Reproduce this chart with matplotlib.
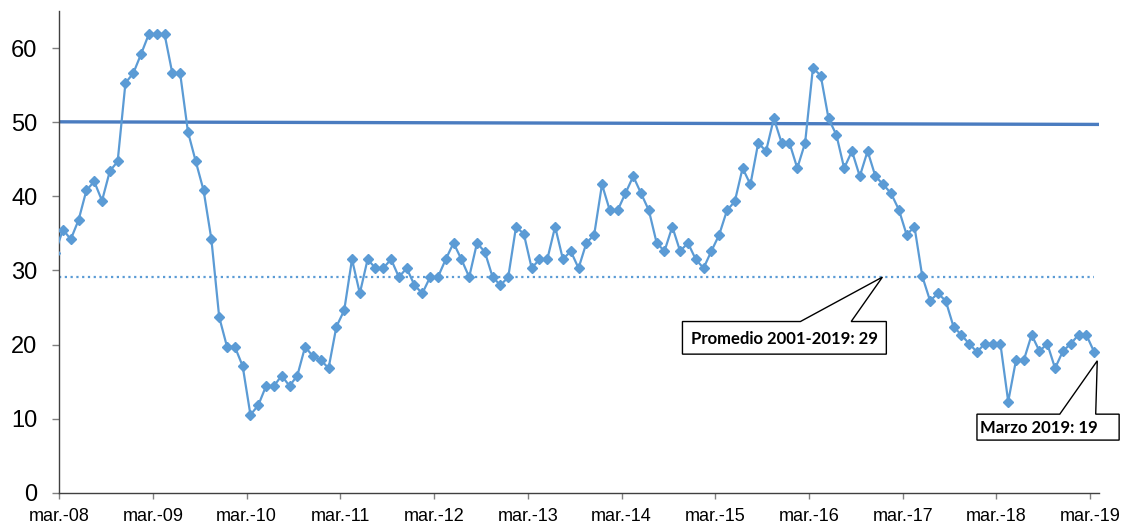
import numpy as np
import matplotlib
matplotlib.use("Agg")
import matplotlib.pyplot as plt
from matplotlib.patches import Polygon

# monthly index, feb-08 .. mar-19 (first point is cut off by the axis)
values = [32.4,
          35.5, 34.2, 36.8, 40.8, 42.0, 39.4, 43.4, 44.7, 55.3, 56.6, 59.2, 61.9,
          61.9, 61.9, 56.6, 56.6, 48.7, 44.7, 40.8, 34.2, 23.7, 19.7, 19.7, 17.1,
          10.5, 11.8, 14.4, 14.4, 15.8, 14.4, 15.8, 19.7, 18.4, 17.9, 16.8, 22.4,
          24.6, 31.5, 26.9, 31.5, 30.3, 30.3, 31.5, 29.1, 30.3, 28.0, 26.9, 29.1,
          29.1, 31.5, 33.7, 31.5, 29.1, 33.7, 32.5, 29.1, 28.0, 29.1, 35.9, 34.9,
          30.3, 31.5, 31.5, 35.9, 31.5, 32.6, 30.3, 33.7, 34.8, 41.6, 38.1, 38.1,
          40.4, 42.7, 40.4, 38.1, 33.7, 32.6, 35.9, 32.6, 33.7, 31.5, 30.3, 32.6,
          34.8, 38.1, 39.3, 43.8, 41.6, 47.2, 46.1, 50.5, 47.2, 47.2, 43.8, 47.2,
          57.3, 56.3, 50.5, 48.3, 43.8, 46.1, 42.7, 46.1, 42.7, 41.6, 40.4, 38.2,
          34.8, 35.9, 29.2, 25.9, 26.9, 25.9, 22.4, 21.3, 20.1, 19.0, 20.1, 20.1,
          20.1, 12.3, 17.9, 17.9, 21.3, 19.1, 20.1, 16.8, 19.1, 20.1, 21.3, 21.3,
          19.0]
tick_labels = ["mar.-08", "mar.-09", "mar.-10", "mar.-11", "mar.-12", "mar.-13",
               "mar.-14", "mar.-15", "mar.-16", "mar.-17", "mar.-18", "mar.-19"]
trend_ends = [50.05, 49.7]
promedio = 29.1
promedio_label = "Promedio 2001-2019: 29"
last_label = "Marzo 2019: 19"

x = np.arange(-1, len(values) - 1) + 0.5
n_months = len(values) - 1

fig = plt.figure(figsize=(11.27, 5.26), dpi=100)
ax = fig.add_axes([0.0524, 0.0633, 0.9226, 0.9157])

ax.plot(x, values, color="#5B9BD5", lw=1.6, marker="D", ms=4.8, zorder=3)
ax.plot([0, 133.1], trend_ends, color="#4A7CC0", lw=2.4, zorder=2)
ax.plot([0, x[-1]], [promedio, promedio], color="#5B9BD5", lw=1.6,
        linestyle=(0, (1, 1.6)), zorder=2)

ax.set_xlim(0, 133.1)
ax.set_ylim(0, 65)
ax.set_yticks(range(0, 61, 10))
ax.set_xticks(np.arange(0, n_months + 1, 12))
ax.set_xticklabels(tick_labels)

for s in ["top", "right"]:
    ax.spines[s].set_visible(False)
for s in ["left", "bottom"]:
    ax.spines[s].set_color("#404040")
    ax.spines[s].set_linewidth(1.0)

ax.tick_params(axis="y", length=5, width=1, color="#808080", pad=10.5,
               labelsize=17)
ax.tick_params(axis="x", length=4, width=1, color="#808080", pad=7,
               labelsize=13)
for lab in ax.get_xticklabels() + ax.get_yticklabels():
    lab.set_fontfamily("Liberation Sans")


def callout(box, base, tip, label, tx, ty):
    (x0, x1, y0, y1) = box
    pts = [(x0, y0), (base[0], y0), tip, (base[1], y0), (x1, y0),
           (x1, y1), (x0, y1)]
    ax.add_patch(Polygon(pts, closed=True, facecolor="white", edgecolor="black",
                         lw=1.0, zorder=5, clip_on=False))
    ax.text(tx, ty, label, ha="center", va="center", fontsize=12,
            fontweight="bold", family=["Lato", "DejaVu Sans"], zorder=6)


callout((79.8, 105.9, 23.1, 18.7), (94.9, 101.4), (105.4, promedio),
        promedio_label, 92.85, 20.8)
callout((117.5, 135.7, 10.6, 7.1), (128.1, 132.7), (132.9, 17.8),
        last_label, 125.4, 8.75)

fig.savefig("out.png", dpi=100)
